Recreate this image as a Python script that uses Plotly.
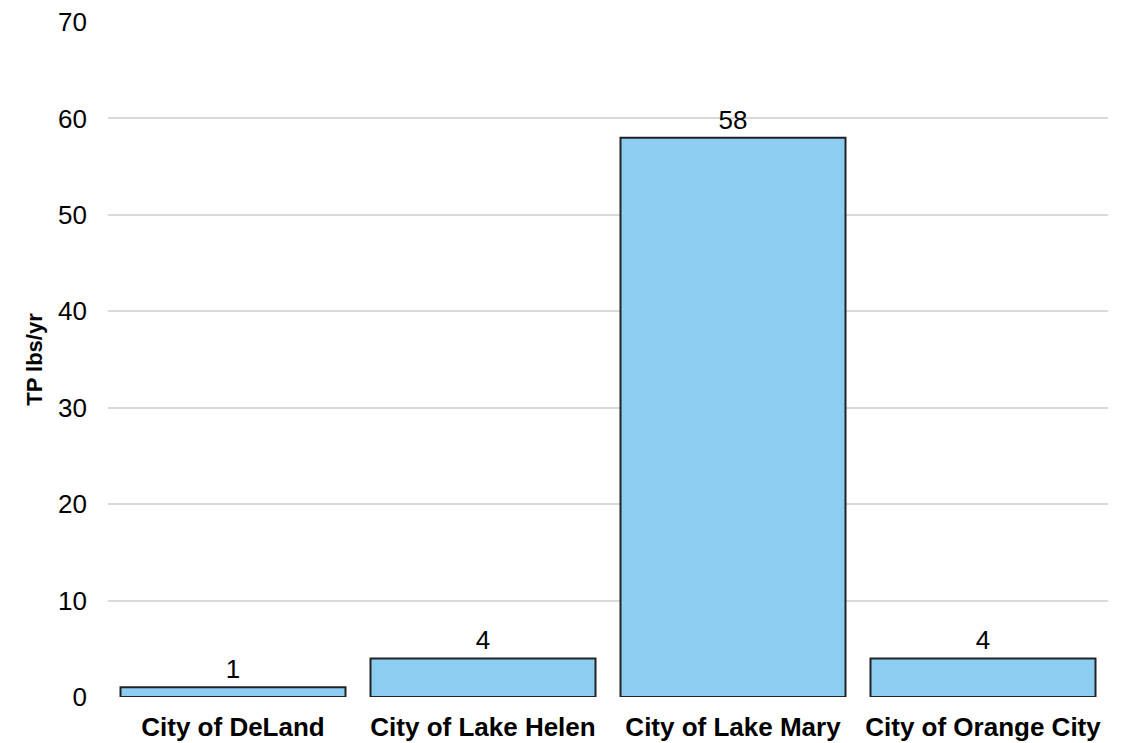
import plotly.graph_objects as go

# Total phosphorus load by jurisdiction
cities = ["City of DeLand", "City of Lake Helen", "City of Lake Mary", "City of Orange City"]
tp_lbs_per_yr = [1, 4, 58, 4]
y_ticks = [0, 10, 20, 30, 40, 50, 60, 70]

FONT = "Liberation Sans, Arial, sans-serif"

fig = go.Figure(
    go.Bar(
        x=cities,
        y=tp_lbs_per_yr,
        text=[str(v) for v in tp_lbs_per_yr],
        textposition="outside",
        cliponaxis=False,
        textfont=dict(family=FONT, size=26, color="#000000"),
        marker=dict(color="#8ECDF2", line=dict(color="#222222", width=2)),
    )
)

fig.update_layout(
    width=1130,
    height=743,
    margin=dict(l=108, r=22, t=22, b=46),
    plot_bgcolor="white",
    paper_bgcolor="white",
    bargap=0.1,
    showlegend=False,
    font=dict(family=FONT, color="#000000"),
)

fig.update_xaxes(
    automargin=False,
    showgrid=False,
    showline=False,
    ticks="",
    ticklabelstandoff=12,
    tickfont=dict(size=26, family=FONT, weight="bold"),
)

fig.update_yaxes(
    automargin=False,
    range=[0, 70],
    tickvals=y_ticks,
    showgrid=True,
    gridcolor="#d9d9d9",
    gridwidth=2,
    zeroline=False,
    showline=False,
    ticks="",
    ticklabelstandoff=20,
    tickfont=dict(size=26),
    title=dict(text="<b>TP lbs/yr</b>", font=dict(size=22), standoff=9),
)

fig.write_html("out.html")
